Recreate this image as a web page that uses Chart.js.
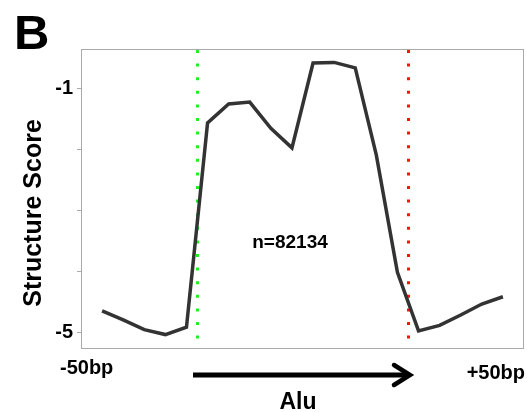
<!DOCTYPE html>
<html>
<head>
<meta charset="utf-8">
<script src="https://cdn.jsdelivr.net/npm/chart.js@4/dist/chart.umd.min.js"></script>
<style>
html,body{margin:0;padding:0;background:#fff;}
#wrap{width:527px;height:412px;position:relative;}
</style>
</head>
<body>
<div id="wrap"><canvas id="c"></canvas></div>
<script>
// bin positions along the window (-50bp .. +50bp), 20 bins
const binPositions = [1,2,3,4,5,6,7,8,9,10,11,12,13,14,15,16,17,18,19,20];
const structureScore = [-4.65,-4.80,-4.96,-5.04,-4.92,-1.57,-1.26,-1.23,-1.66,-1.98,-0.59,-0.58,-0.67,-2.10,-4.02,-4.98,-4.89,-4.72,-4.54,-4.42];
const yTickValues = [-5,-4,-3,-2,-1];
const yTickLabels = {"-1":"-1","-5":"-5"};
const alignmentMarkers = [5.5, 15.5];   // Alu start / end
const markerColors = ["#22ee22", "#ff1111"];
const xEndLabels = ["-50bp", "+50bp"];
const panelLetter = "B";
const yTitle = "Structure Score";
const annotation = "n=82134";
const arrowLabel = "Alu";

const FONT = "'Liberation Sans', Arial, sans-serif";

const decor = {
  id: 'decor',
  beforeDatasetsDraw(chart) {
    const ctx = chart.ctx, a = chart.chartArea, xs = chart.scales.x;
    ctx.save();
    // dotted markers
    alignmentMarkers.forEach((m, i) => {
      const px = Math.round(xs.getPixelForValue(m)) + 0.5;
      ctx.strokeStyle = markerColors[i];
      ctx.lineWidth = 3;
      ctx.setLineDash([3, 10.6]);
      ctx.beginPath();
      ctx.moveTo(px, a.top + 1);
      ctx.lineTo(px, a.bottom);
      ctx.stroke();
    });
    ctx.restore();
  },
  afterDraw(chart) {
    const ctx = chart.ctx, a = chart.chartArea, xs = chart.scales.x;
    ctx.save();
    // frame
    ctx.strokeStyle = '#aaaaaa';
    ctx.lineWidth = 1;
    ctx.strokeRect(a.left + 0.5, a.top + 0.5, a.right - a.left - 1, a.bottom - a.top);
    // panel letter
    ctx.fillStyle = '#000';
    ctx.font = "bold 49px " + FONT;
    ctx.textAlign = 'left';
    ctx.textBaseline = 'alphabetic';
    ctx.fillText(panelLetter, 14, 49);
    // y title
    ctx.save();
    ctx.translate(41, 213);
    ctx.rotate(-Math.PI / 2);
    ctx.font = "bold 25px " + FONT;
    ctx.textAlign = 'center';
    ctx.textBaseline = 'alphabetic';
    ctx.fillText(yTitle, 0, 0);
    ctx.restore();
    // x end labels
    ctx.font = "bold 20px " + FONT;
    ctx.textBaseline = 'middle';
    ctx.textAlign = 'left';
    ctx.fillText(xEndLabels[0], 60, 368);
    ctx.textAlign = 'right';
    ctx.fillText(xEndLabels[1], 525, 373);
    // annotation
    ctx.font = "bold 19px " + FONT;
    ctx.textAlign = 'center';
    ctx.fillText(annotation, 290, 243);
    // arrow
    const x0 = 193, x1 = 410, ay = 375;
    ctx.strokeStyle = '#000';
    ctx.lineWidth = 5;
    ctx.beginPath();
    ctx.moveTo(x0, ay);
    ctx.lineTo(x1 - 3, ay);
    ctx.stroke();
    ctx.lineWidth = 4.5;
    ctx.lineCap = 'round';
    ctx.lineJoin = 'miter';
    ctx.beginPath();
    ctx.moveTo(394, 365);
    ctx.lineTo(x1, ay);
    ctx.lineTo(394, 385);
    ctx.stroke();
    // arrow label
    ctx.font = "bold 23px " + FONT;
    ctx.textAlign = 'center';
    ctx.textBaseline = 'alphabetic';
    ctx.fillText(arrowLabel, 298, 409);
    ctx.restore();
  }
};

new Chart(document.getElementById('c'), {
  type: 'line',
  data: {
    datasets: [{
      data: binPositions.map((x, i) => ({x: x, y: structureScore[i]})),
      borderColor: '#333333',
      borderWidth: 3.5,
      pointRadius: 0,
      tension: 0,
      fill: false
    }]
  },
  options: {
    responsive: true,
    maintainAspectRatio: false,
    animation: false,
    layout: {padding: {left: 0, top: 49, right: 3, bottom: 64}},
    plugins: {legend: {display: false}, tooltip: {enabled: false}},
    scales: {
      x: {type: 'linear', min: 0, max: 21, display: false},
      y: {
        min: -5.26, max: -0.36,
        afterBuildTicks(s) { s.ticks = yTickValues.map(v => ({value: v})); },
        afterFit(s) { s.width = 81; },
        border: {display: false},
        grid: {drawOnChartArea: false, drawTicks: true, tickLength: 4, color: '#aaaaaa'},
        ticks: {
          padding: 4,
          color: '#000',
          font: {family: FONT, size: 20, weight: 'bold'},
          callback(v) { return yTickLabels[String(v)] || ''; }
        }
      }
    }
  },
  plugins: [decor]
});
</script>
</body>
</html>
